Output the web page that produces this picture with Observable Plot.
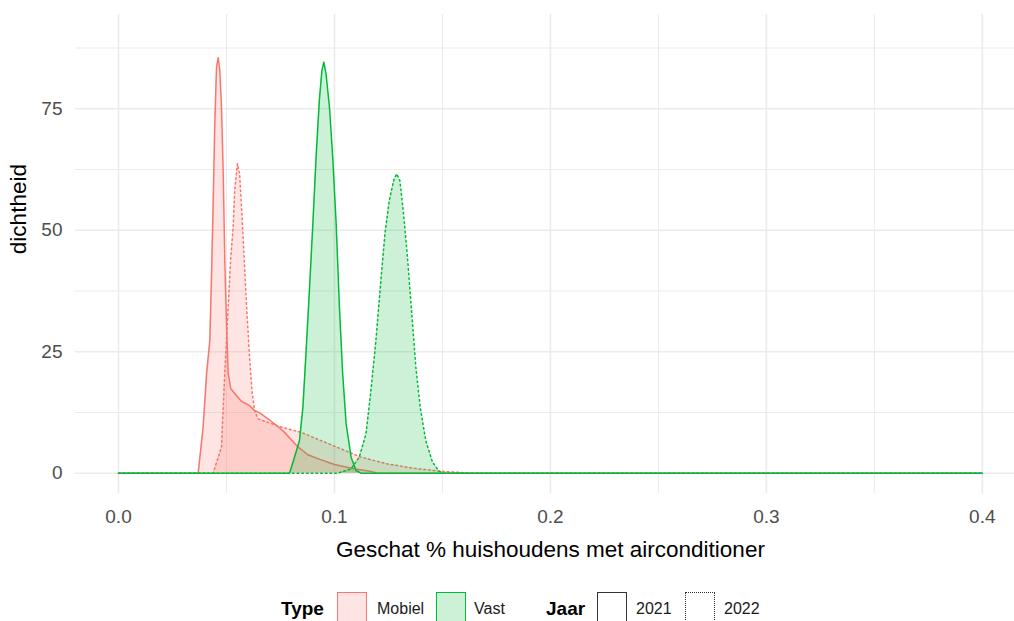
<!DOCTYPE html>
<html>
<head>
<meta charset="utf-8">
<script src="https://cdn.jsdelivr.net/npm/d3@7"></script>
<script src="https://cdn.jsdelivr.net/npm/@observablehq/plot@0.6"></script>
<style>
  html, body { margin: 0; padding: 0; background: #fff; overflow: hidden; }
  body { width: 1014px; height: 621px; font-family: "Liberation Sans", Arial, sans-serif; }
  #legend { position: relative; width: 1014px; height: 35px; overflow: hidden; }
  #legend .t { position: absolute; top: 0; line-height: 1; white-space: nowrap; }
  #legend .title { font-weight: bold; font-size: 19px; color: #000; }
  #legend .lab { font-size: 16px; color: #1a1a1a; }
  #legend .key { position: absolute; top: 6px; width: 28px; height: 28px; }
</style>
</head>
<body>
<div id="chart"></div>
<div id="legend"></div>
<script>
// ---- tick values ----
const xTicks = [0, 0.1, 0.2, 0.3, 0.4];
const xMinor = [0.05, 0.15, 0.25, 0.35];
const yTicks = [0, 25, 50, 75];
const yMinor = [12.5, 37.5, 62.5, 87.5];

// ---- legend categories ----
const types = ["Mobiel", "Vast"];
const years = ["2021", "2022"];
const typeColors = ["#F8766D", "#00BA38"];

// ---- density estimates ----
const mobiel2021X = [0, 0.0369, 0.0392, 0.0408, 0.0423, 0.0431, 0.0438, 0.0446, 0.0454, 0.0462, 0.0469, 0.0477, 0.0485, 0.0492, 0.0500, 0.0508, 0.0520, 0.0546, 0.0569, 0.0607, 0.0630, 0.0654, 0.0692, 0.0738, 0.0769, 0.0831, 0.0877, 0.0923, 0.1000, 0.1090, 0.1170, 0.1200, 0.4];
const mobiel2021Y = [0, 0, 9.5, 20.5, 27.3, 41, 54.8, 71.9, 83.6, 85.5, 82.9, 75.3, 61.6, 44.5, 30.8, 20.5, 17.4, 16.0, 14.8, 13.9, 12.9, 12.4, 11.2, 9.6, 8.4, 5.4, 3.8, 3.0, 1.8, 0.9, 0.35, 0, 0];

const mobiel2022X = [0, 0.0438, 0.0477, 0.0492, 0.0508, 0.0520, 0.0531, 0.0538, 0.0551, 0.0561, 0.0574, 0.0584, 0.0595, 0.0607, 0.0618, 0.0630, 0.0646, 0.0708, 0.0754, 0.0846, 0.0938, 0.1031, 0.1123, 0.1246, 0.1369, 0.1492, 0.1600, 0.1630, 0.4];
const mobiel2022Y = [0, 0, 5.35, 20.5, 34.2, 44.5, 50.6, 58.2, 63.7, 61.6, 51.3, 42.4, 32.8, 23.9, 17.0, 12.9, 11.2, 10.2, 9.5, 8.4, 6.7, 5.0, 3.3, 1.9, 1.0, 0.4, 0.1, 0, 0];

const vast2021X = [0, 0.0792, 0.0815, 0.0838, 0.0854, 0.0869, 0.0884, 0.0900, 0.0915, 0.0930, 0.0942, 0.0951, 0.0961, 0.0977, 0.0992, 0.1008, 0.1023, 0.1038, 0.1054, 0.1077, 0.1100, 0.1123, 0.4];
const vast2021Y = [0, 0, 3.3, 6.7, 13.6, 25.3, 37.6, 51.3, 65.0, 76.7, 82.9, 84.6, 82.2, 75.3, 65.0, 51.3, 34.2, 20.5, 10.2, 3.3, 0.55, 0, 0];

const vast2022X = [0, 0.1015, 0.1077, 0.1115, 0.1146, 0.1169, 0.1192, 0.1215, 0.1234, 0.1254, 0.1274, 0.1288, 0.1303, 0.1320, 0.1338, 0.1358, 0.1377, 0.1397, 0.1423, 0.1454, 0.1484, 0.1507, 0.4];
const vast2022Y = [0, 0, 0.9, 3.3, 8.1, 17.0, 27.3, 39.7, 49.3, 56.1, 60.2, 61.6, 60.2, 53.4, 44.5, 32.8, 21.8, 13.6, 6.7, 2.3, 0.4, 0, 0];

// ---- build series table ----
const series = [
  {type: 0, year: 0, xs: mobiel2021X, ys: mobiel2021Y},
  {type: 0, year: 1, xs: mobiel2022X, ys: mobiel2022Y},
  {type: 1, year: 0, xs: vast2021X, ys: vast2021Y},
  {type: 1, year: 1, xs: vast2022X, ys: vast2022Y}
];
const dash = ["none", "1.7,3"];

const marks = [
  Plot.gridX({ticks: xMinor, stroke: "#ebebeb", strokeOpacity: 1, strokeWidth: 1}),
  Plot.gridY({ticks: yMinor, stroke: "#ebebeb", strokeOpacity: 1, strokeWidth: 1}),
  Plot.gridX({ticks: xTicks, stroke: "#ebebeb", strokeOpacity: 1, strokeWidth: 1.6}),
  Plot.gridY({ticks: yTicks, stroke: "#ebebeb", strokeOpacity: 1, strokeWidth: 1.6}),
  Plot.axisX({ticks: xTicks, tickSize: 0, tickPadding: 16, fontSize: 19, color: "#4d4d4d",
              tickFormat: d3.format(".1f"), label: null}),
  Plot.axisY({ticks: yTicks, tickSize: 0, tickPadding: 12.8, fontSize: 19, color: "#4d4d4d",
              tickFormat: d => String(d), label: null})
];
for (const s of series) {
  const rows = s.xs.map((x, i) => ({x, y: s.ys[i]}));
  const c = typeColors[s.type];
  marks.push(Plot.areaY(rows, {x: "x", y: "y", fill: c, fillOpacity: 0.2}));
  marks.push(Plot.lineY(rows, {x: "x", y: "y", stroke: c, strokeWidth: 1.5, strokeDasharray: dash[s.year]}));
}
marks.push(Plot.text(["Geschat % huishoudens met airconditioner"], {frameAnchor: "bottom", dy: 62.7, fontSize: 22.5, fill: "#000"}));
marks.push(Plot.text(["dichtheid"], {frameAnchor: "left", rotate: -90, dx: -56.3, fontSize: 22.5, fill: "#000"}));

const chart = Plot.plot({
  width: 1014,
  height: 586,
  marginLeft: 74.8,
  marginRight: -11,
  marginTop: 14,
  marginBottom: 92.7,
  style: {fontFamily: "'Liberation Sans', Arial, sans-serif", background: "#fff", overflow: "hidden"},
  x: {domain: [-0.02, 0.42], range: [74.8, 1025]},
  y: {domain: [-4.24, 94.4], range: [493.3, 14]},
  marks
});
document.getElementById("chart").appendChild(chart);

// ---- legend (HTML, below the SVG) ----
const legend = document.getElementById("legend");
function addText(cls, txt, left, top) {
  const el = document.createElement("div");
  el.className = "t " + cls;
  el.textContent = txt;
  el.style.left = left + "px";
  el.style.top = top + "px";
  legend.appendChild(el);
}
function addKey(left, fill, border, style) {
  const el = document.createElement("div");
  el.className = "key";
  el.style.left = left + "px";
  el.style.background = fill;
  el.style.border = "1.5px " + style + " " + border;
  legend.appendChild(el);
}
const typeFills = ["rgba(248,118,109,0.2)", "rgba(0,186,56,0.2)"];
addText("title", "Type", 281, 13);
addKey(337, typeFills[0], typeColors[0], "solid");
addText("lab", types[0], 377, 15);
addKey(435.5, typeFills[1], typeColors[1], "solid");
addText("lab", types[1], 474, 15);
addText("title", "Jaar", 546, 13);
addKey(597, "#fff", "#333", "solid");
addText("lab", years[0], 636, 15);
addKey(685, "#fff", "#333", "dotted");
addText("lab", years[1], 724, 15);
</script>
</body>
</html>
